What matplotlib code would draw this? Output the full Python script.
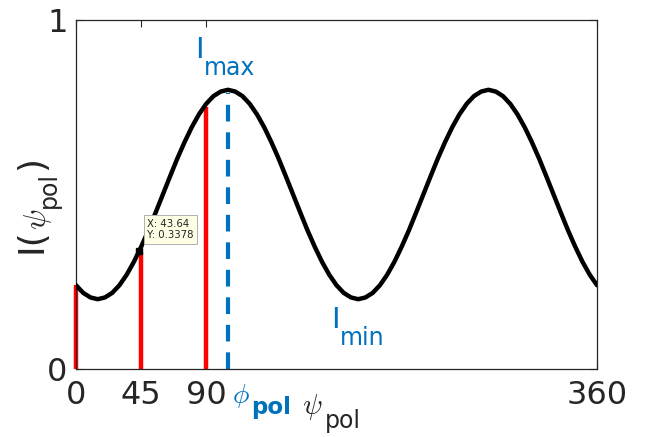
import matplotlib
matplotlib.use("Agg")
import matplotlib.pyplot as plt

psi = list(range(0, 365, 5))
half = [0.240, 0.218, 0.205, 0.200, 0.205, 0.218, 0.240, 0.270, 0.307, 0.350,
        0.397, 0.448, 0.500, 0.552, 0.603, 0.650, 0.693, 0.730, 0.760, 0.782,
        0.795, 0.800, 0.795, 0.782, 0.760, 0.730, 0.693, 0.650, 0.603, 0.552,
        0.500, 0.448, 0.397, 0.350, 0.307, 0.270]
intensity = half + half + [0.240]

stem_x = [0, 45, 90]
stem_y = [0.240, 0.335, 0.750]
phi_pol = 105
i_max = 0.790
tip_x, tip_y = 43.64, 0.3378
x_ticks = [0, 45, 90, 360]
x_ticklabels = ["0", "45", "90", "360"]
y_ticks = [0, 1]
y_ticklabels = ["0", "1"]

BLUE = "#0072BD"
DARK = "#262626"
plt.rcParams["mathtext.fontset"] = "dejavusans"

W, H = 650, 437
fig = plt.figure(figsize=(W/100, H/100), dpi=100)
ax = fig.add_axes([76/W, 1-369/H, (597-76)/W, (369-20)/H])


def ftext(px, py, s, **kw):
    """Place text at figure pixel coords (y measured from top)."""
    return fig.text(px/W, 1-py/H, s, **kw)


ax.plot(psi, intensity, color="black", lw=3.2, solid_capstyle="round", zorder=3)
for sx, sy in zip(stem_x, stem_y):
    ax.plot([sx, sx], [0, sy], color="red", lw=3.2, zorder=2,
            solid_capstyle="butt", clip_on=False)
ax.plot([phi_pol, phi_pol], [0, i_max], color=BLUE, lw=3, ls=(0, (4.0, 2.6)), zorder=2)

ax.plot([tip_x], [tip_y], marker="s", color="black", ms=5, zorder=5)
ax.annotate(f"X: {tip_x}\nY: {tip_y}", xy=(tip_x, tip_y), xytext=(8, 11),
            textcoords="offset pixels", fontsize=7.3, color="#222222",
            linespacing=1.15,
            bbox=dict(boxstyle="square,pad=0.35", fc="#FFFFE6", ec="#b0b0b0", lw=0.7),
            zorder=6, va="bottom", ha="left")

ax.set_xlim(0, 360)
ax.set_ylim(0, 1)
ax.set_xticks(x_ticks)
ax.set_xticklabels(x_ticklabels)
ax.set_yticks(y_ticks)
ax.set_yticklabels(y_ticklabels)
ax.tick_params(direction="in", length=5, width=0.8, colors=DARK,
               labelsize=23, top=True, right=True, pad=6)
ax.tick_params(axis="x", pad=8)
for s in ax.spines.values():
    s.set_color(DARK)
    s.set_linewidth(0.9)

# y label: I(psi_pol), rotated, built from pieces
rk = dict(rotation=90, rotation_mode="anchor", ha="left", va="baseline", color=DARK)
ftext(42, 253, "I(", fontsize=26, **rk)
ftext(46, 230, r"$\psi$", fontsize=22, math_fontfamily="cm", **rk)
ftext(56, 208, "pol", fontsize=17, **rk)
ftext(42, 170, ")", fontsize=26, **rk)

# x label: psi_pol
ftext(302, 414, r"$\psi$", fontsize=21, color=DARK, math_fontfamily="cm",
      ha="left", va="baseline")
ftext(325, 428, "pol", fontsize=17, color=DARK, ha="left", va="baseline")

# I_max / I_min annotations
ftext(195, 58, "I", fontsize=21, color=BLUE, ha="left", va="baseline")
ftext(204, 75, "max", fontsize=17, color=BLUE, ha="left", va="baseline")
ftext(331, 328, "I", fontsize=21, color=BLUE, ha="left", va="baseline")
ftext(340, 345, "min", fontsize=17, color=BLUE, ha="left", va="baseline")

# phi_pol label under the axis
ftext(232, 403, r"$\phi$", fontsize=20, color=BLUE, math_fontfamily="cm",
      ha="left", va="baseline")
ftext(251, 414, "pol", fontsize=16.5, fontweight="bold", color=BLUE,
      ha="left", va="baseline")

fig.savefig("out.png", dpi=100)
